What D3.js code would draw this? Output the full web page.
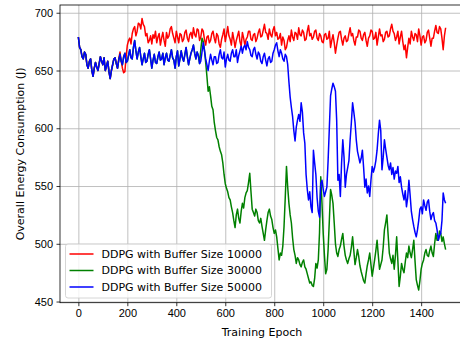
<!DOCTYPE html>
<html>
<head>
<meta charset="utf-8">
<script src="https://cdn.jsdelivr.net/npm/d3@7"></script>
<style>
  body { margin: 0; background: #fff; }
  svg { display: block; font-family: "DejaVu Sans", sans-serif; }
  .axis text { font-size: 11px; fill: #000; }
  .axis line { stroke: #000; stroke-width: 0.8; }
  .axis path { display: none; }
  .grid line { stroke: #b0b0b0; stroke-width: 0.8; }
  .grid path { display: none; }
  .line { fill: none; stroke-width: 1.5; stroke-linejoin: round; }
</style>
</head>
<body>
<div id="chart"></div>
<script>
// epochs sampled every 5 steps
const epochs = d3.range(0, 1501, 5);

const buffer10000 = [
  679, 670, 668, 662, 660, 666, 664, 655, 652, 658, 660, 650, 645, 652, 657, 653, 650, 656, 662, 658,
  655, 661, 650, 654, 658, 649, 643, 650, 655, 660, 661, 656, 652, 660, 666, 658, 652, 648, 649, 662,
  672, 676, 678, 673, 682, 686, 688, 680, 684, 691, 690, 686, 695, 690, 688, 680, 682, 674, 676, 680,
  673, 681, 678, 684, 674, 679, 682, 672, 678, 683, 676, 671, 683, 678, 680, 686, 688, 682, 678, 674,
  684, 679, 674, 682, 681, 675, 677, 683, 685, 678, 675, 681, 683, 678, 687, 681, 679, 686, 685, 676,
  679, 686, 684, 677, 672, 679, 680, 674, 676, 682, 684, 678, 674, 682, 680, 673, 670, 677, 681, 686,
  675, 681, 688, 680, 677, 672, 683, 677, 670, 676, 680, 684, 675, 671, 683, 678, 672, 677, 679, 684,
  684, 677, 676, 681, 682, 675, 678, 683, 686, 679, 680, 685, 690, 683, 682, 677, 686, 681, 679, 685,
  688, 680, 683, 677, 678, 682, 672, 679, 676, 668, 670, 676, 680, 675, 685, 679, 676, 683, 682, 677,
  687, 681, 680, 685, 683, 676, 677, 684, 689, 680, 682, 677, 679, 684, 685, 678, 676, 682, 680, 675,
  674, 681, 682, 677, 678, 684, 670, 676, 681, 674, 665, 672, 678, 683, 684, 677, 672, 678, 680, 675,
  676, 682, 687, 680, 682, 676, 672, 679, 679, 685, 684, 678, 676, 681, 683, 676, 671, 678, 680, 685,
  684, 677, 678, 683, 672, 679, 686, 680, 681, 675, 677, 683, 684, 679, 680, 686, 690, 684, 682, 676,
  679, 684, 673, 679, 684, 675, 668, 672, 661, 670, 678, 673, 684, 679, 676, 682, 681, 675, 686, 680,
  672, 679, 680, 674, 676, 683, 685, 678, 671, 678, 678, 684, 689, 683, 682, 688, 686, 678, 668, 680,
  687
];

const buffer30000 = [
  679, 670, 668, 662, 660, 666, 664, 655, 652, 658, 660, 650, 645, 652, 657, 653, 650, 656, 662, 658,
  655, 661, 650, 654, 658, 649, 643, 650, 655, 660, 661, 656, 652, 659, 664, 658, 655, 662, 665, 657,
  658, 663, 668, 661, 660, 670, 676, 667, 660, 666, 670, 662, 655, 660, 665, 657, 658, 664, 668, 660,
  652, 659, 664, 657, 656, 662, 666, 659, 660, 665, 655, 661, 665, 659, 658, 663, 668, 661, 659, 652,
  662, 667, 654, 660, 667, 661, 658, 664, 670, 662, 655, 660, 665, 668, 672, 665, 660, 666, 663, 656,
  668, 678, 675, 668, 657, 645, 632, 636, 628, 619, 616, 605, 598, 592, 590, 584, 580, 577, 570, 560,
  552, 548, 545, 540, 538, 532, 527, 520, 514, 525, 530, 522, 518, 528, 535, 531, 540, 544, 546, 553,
  561, 545, 530, 527, 524, 530, 527, 520, 518, 522, 515, 509, 503, 512, 520, 527, 530, 524, 521, 514,
  509, 512, 506, 496, 486, 492, 490, 498, 515, 540, 567, 549, 535, 525, 518, 505, 495, 490, 483, 488,
  486, 482, 480, 484, 486, 480, 478, 474, 470, 466, 467, 464, 463, 470, 483, 479, 486, 510, 558, 535,
  509, 490, 474, 478, 495, 520, 547, 542, 535, 518, 500, 492, 489, 495, 498, 504, 509, 498, 490, 486,
  483, 487, 490, 497, 506, 494, 482, 488, 495, 489, 481, 476, 472, 468, 466, 474, 481, 486, 492, 482,
  472, 479, 486, 494, 503, 490, 478, 482, 486, 497, 512, 518, 525, 508, 492, 487, 483, 490, 478, 490,
  506, 485, 463, 472, 483, 478, 475, 484, 492, 488, 498, 492, 488, 495, 503, 485, 469, 464, 460, 468,
  478, 483, 486, 492, 495, 490, 489, 494, 498, 492, 489, 500, 509, 503, 503, 511, 509, 502, 506, 500,
  495
];

const buffer50000 = [
  679, 670, 668, 662, 660, 666, 664, 655, 652, 658, 660, 650, 645, 652, 657, 653, 650, 656, 662, 658,
  655, 661, 650, 654, 658, 649, 643, 650, 655, 660, 661, 656, 652, 659, 664, 658, 655, 662, 665, 657,
  658, 663, 668, 661, 660, 670, 676, 667, 660, 666, 670, 662, 655, 660, 665, 657, 658, 664, 668, 660,
  652, 659, 664, 657, 656, 662, 666, 659, 660, 665, 655, 661, 665, 659, 658, 663, 668, 661, 659, 652,
  662, 667, 654, 660, 667, 661, 658, 664, 670, 662, 655, 660, 665, 668, 672, 665, 660, 666, 663, 656,
  658, 666, 674, 667, 660, 655, 650, 658, 664, 659, 655, 662, 662, 656, 657, 664, 668, 661, 660, 666,
  653, 660, 664, 659, 658, 665, 668, 662, 662, 668, 657, 663, 667, 671, 665, 670, 672, 668, 675, 670,
  668, 663, 662, 668, 670, 664, 660, 666, 664, 658, 656, 662, 665, 659, 654, 660, 662, 657, 658, 665,
  668, 672, 674, 667, 662, 668, 665, 660, 658, 664, 662, 655, 640, 627, 618, 610, 598, 589, 601, 607,
  612, 606, 622, 614, 596, 587, 560, 547, 538, 545, 532, 527, 581, 570, 560, 540, 528, 523, 552, 555,
  547, 541, 545, 549, 572, 600, 628, 634, 639, 636, 632, 607, 555, 560, 541, 570, 590, 575, 549, 560,
  566, 572, 590, 605, 622, 614, 605, 590, 580, 575, 570, 574, 581, 566, 549, 556, 544, 550, 541, 555,
  567, 562, 566, 572, 581, 595, 607, 598, 564, 575, 590, 582, 575, 568, 564, 570, 560, 566, 556, 563,
  561, 567, 553, 558, 549, 543, 538, 546, 532, 540, 555, 542, 528, 521, 515, 510, 506, 512, 520, 530,
  532, 526, 538, 533, 529, 536, 538, 528, 521, 525, 527, 520, 518, 512, 503, 507, 509, 520, 544, 538,
  535
];

const seriesNames = [
  "DDPG with Buffer Size 10000",
  "DDPG with Buffer Size 30000",
  "DDPG with Buffer Size 50000"
];
const seriesColors = ["#ff0000", "#008000", "#0000ff"];
const xTicks = [0, 200, 400, 600, 800, 1000, 1200, 1400];
const yTicks = [450, 500, 550, 600, 650, 700];

const W = 460, H = 341;
const margin = { top: 5, left: 60, right: -4, bottom: 38.3 };
const width = W - margin.left - margin.right;
const height = H - margin.top - margin.bottom;

const series = [buffer10000, buffer30000, buffer50000].map((vals, i) => ({
  name: seriesNames[i],
  color: seriesColors[i],
  values: epochs.map((e, j) => ({ epoch: e, energy: vals[j] }))
}));

const svg = d3.select("#chart").append("svg")
  .attr("width", W)
  .attr("height", H);

const g = svg.append("g").attr("transform", `translate(${margin.left},${margin.top})`);

const x = d3.scaleLinear().domain([-75, 1575]).range([0, width]);
const y = d3.scaleLinear().domain([449, 706.7]).range([height, 0]);

// grid
g.append("g")
  .attr("class", "grid")
  .attr("transform", `translate(0,${height})`)
  .call(d3.axisBottom(x).tickValues(xTicks).tickSize(-height).tickFormat(""));
g.append("g")
  .attr("class", "grid")
  .call(d3.axisLeft(y).tickValues(yTicks).tickSize(-width).tickFormat(""));

g.append("clipPath").attr("id", "clip")
  .append("rect").attr("width", width).attr("height", height);

const line = d3.line()
  .x(d => x(d.epoch))
  .y(d => y(d.energy));

g.append("g").attr("clip-path", "url(#clip)")
  .selectAll(".line")
  .data(series)
  .enter().append("path")
  .attr("class", "line")
  .attr("d", d => line(d.values))
  .style("stroke", d => d.color);

// axes
g.append("g")
  .attr("class", "axis")
  .attr("transform", `translate(0,${height})`)
  .call(d3.axisBottom(x).tickValues(xTicks).tickSize(3.5).tickPadding(3.5).tickFormat(d3.format("d")));
g.append("g")
  .attr("class", "axis")
  .call(d3.axisLeft(y).tickValues(yTicks).tickSize(3.5).tickPadding(3.5).tickFormat(d3.format("d")));

// spines
g.append("rect")
  .attr("width", width)
  .attr("height", height)
  .attr("fill", "none")
  .attr("stroke", "#000")
  .attr("stroke-width", 0.8);

// axis titles
svg.append("text")
  .attr("x", margin.left + width / 2)
  .attr("y", 336)
  .attr("text-anchor", "middle")
  .style("font-size", "11px")
  .text("Training Epoch");

svg.append("text")
  .attr("transform", `translate(24,${margin.top + height / 2}) rotate(-90)`)
  .attr("text-anchor", "middle")
  .style("font-size", "11px")
  .text("Overall Energy Consumption (J)");

// legend
const legend = svg.append("g").attr("transform", "translate(65.5,244)");
legend.append("rect")
  .attr("width", 206)
  .attr("height", 54)
  .attr("rx", 2.5)
  .attr("fill", "#fff")
  .attr("fill-opacity", 0.8)
  .attr("stroke", "#cccccc")
  .attr("stroke-width", 0.8);

const item = legend.selectAll(".item")
  .data(series)
  .enter().append("g")
  .attr("class", "item")
  .attr("transform", (d, i) => `translate(0,${10 + i * 16.5})`);

item.append("line")
  .attr("x1", 4).attr("x2", 28)
  .attr("stroke", d => d.color)
  .attr("stroke-width", 1.5);

item.append("text")
  .attr("x", 36)
  .attr("dy", "0.35em")
  .style("font-size", "11px")
  .text(d => d.name);
</script>
</body>
</html>
